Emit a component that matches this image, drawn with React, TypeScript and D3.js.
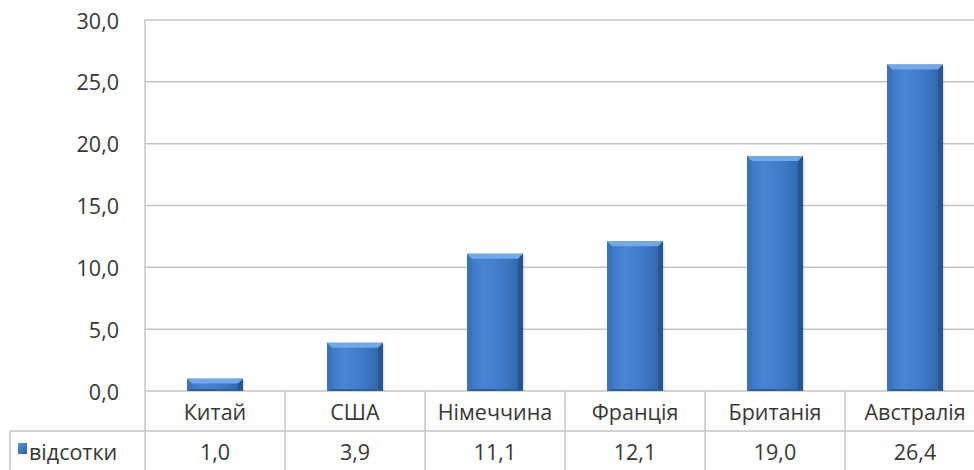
import React from 'react';
import * as d3 from 'd3';

const categories = ['Китай', 'США', 'Німеччина', 'Франція', 'Британія', 'Австралія'];
const values = [1.0, 3.9, 11.1, 12.1, 19.0, 26.4];
const yTicks = [0, 5, 10, 15, 20, 25, 30];
const seriesName = 'відсотки';

const W = 974;
const H = 470;
const left = 145;
const right = 985;
const top = 20;
const bottom = 391;
const rowH = 40;

const fmt = (v: number) => v.toFixed(1).replace('.', ',');

const App: React.FC = () => {
    const x = d3.scaleBand<string>()
        .domain(categories)
        .range([left, right])
        .paddingInner(0.6)
        .paddingOuter(0.3);
    const y = d3.scaleLinear().domain([0, 30]).range([bottom, top]);
    const step = x.step();
    const bw = x.bandwidth();
    const grid = '#c4c4c4';
    const txt = '#383838';
    const font = "'Open Sans', sans-serif";
    const fs = 21.5;

    return (
        <svg width={W} height={H} style={{ position: 'absolute', left: 0, top: 0, background: '#fff' }}>
            <defs>
                <linearGradient id="barFill" x1="0" x2="1" y1="0" y2="0">
                    <stop offset="0" stopColor="#3a74c0" />
                    <stop offset="0.3" stopColor="#4886d2" />
                    <stop offset="0.7" stopColor="#3e78c4" />
                    <stop offset="1" stopColor="#2d5f9f" />
                </linearGradient>
                <linearGradient id="keyFill" x1="0" x2="1" y1="0" y2="1">
                    <stop offset="0" stopColor="#5b96dc" />
                    <stop offset="1" stopColor="#2b5c9c" />
                </linearGradient>
            </defs>

            {/* gridlines */}
            {yTicks.map(t => (
                <line key={t} x1={left} x2={right} y1={y(t)} y2={y(t)} stroke={grid} strokeWidth={1.5} />
            ))}
            {yTicks.map(t => (
                <text key={'l' + t} x={119} y={y(t)} textAnchor="end" dominantBaseline="central"
                    fontFamily={font} fontSize={fs} fill={txt}>{fmt(t)}</text>
            ))}

            {/* bars */}
            {categories.map((c, i) => {
                const x0 = x(c) as number;
                const y0 = y(values[i]);
                const h = bottom - y0;
                const b = Math.min(5, h / 2.5);
                const bb = Math.min(2, h / 4);
                return (
                    <g key={c}>
                        <rect x={x0 + 1.5} y={y0 + 1.5} width={bw} height={h - 1.5} fill="#000" opacity={0.12} />
                        <rect x={x0} y={y0} width={bw} height={h} fill="url(#barFill)" />
                        <polygon points={`${x0},${y0} ${x0 + b},${y0 + b} ${x0 + b},${bottom - bb} ${x0},${bottom}`} fill="#3c72ba" />
                        <polygon points={`${x0 + bw},${y0} ${x0 + bw - b},${y0 + b} ${x0 + bw - b},${bottom - bb} ${x0 + bw},${bottom}`} fill="#285690" />
                        <polygon points={`${x0},${bottom} ${x0 + b},${bottom - bb} ${x0 + bw - b},${bottom - bb} ${x0 + bw},${bottom}`} fill="#2f5e9c" />
                        <polygon points={`${x0},${y0} ${x0 + bw},${y0} ${x0 + bw - b},${y0 + b} ${x0 + b},${y0 + b}`} fill="#70a8ea" />
                    </g>
                );
            })}

            {/* data table */}
            <line x1={left} x2={left} y1={top} y2={H} stroke={grid} strokeWidth={1.5} />
            {categories.map((c, i) => (
                <line key={'v' + c} x1={left + step * (i + 1)} x2={left + step * (i + 1)} y1={bottom} y2={H}
                    stroke={grid} strokeWidth={1.5} />
            ))}
            <line x1={10} x2={right} y1={bottom + rowH} y2={bottom + rowH} stroke={grid} strokeWidth={1.5} />
            <line x1={10} x2={10} y1={bottom + rowH} y2={H} stroke={grid} strokeWidth={1.5} />
            {categories.map((c, i) => (
                <g key={'t' + c}>
                    <text x={(x(c) as number) + bw / 2} y={bottom + rowH / 2} textAnchor="middle" dominantBaseline="central"
                        fontFamily={font} fontSize={fs} fill={txt}>{c}</text>
                    <text x={(x(c) as number) + bw / 2} y={bottom + rowH * 1.5} textAnchor="middle" dominantBaseline="central"
                        fontFamily={font} fontSize={fs} fill={txt}>{fmt(values[i])}</text>
                </g>
            ))}
            <rect x={18} y={443} width={9} height={11} fill="url(#keyFill)" />
            <text x={29} y={bottom + rowH * 1.5} dominantBaseline="central" fontFamily={font} fontSize={fs} fill={txt}>{seriesName}</text>
        </svg>
    );
};

export default App;
